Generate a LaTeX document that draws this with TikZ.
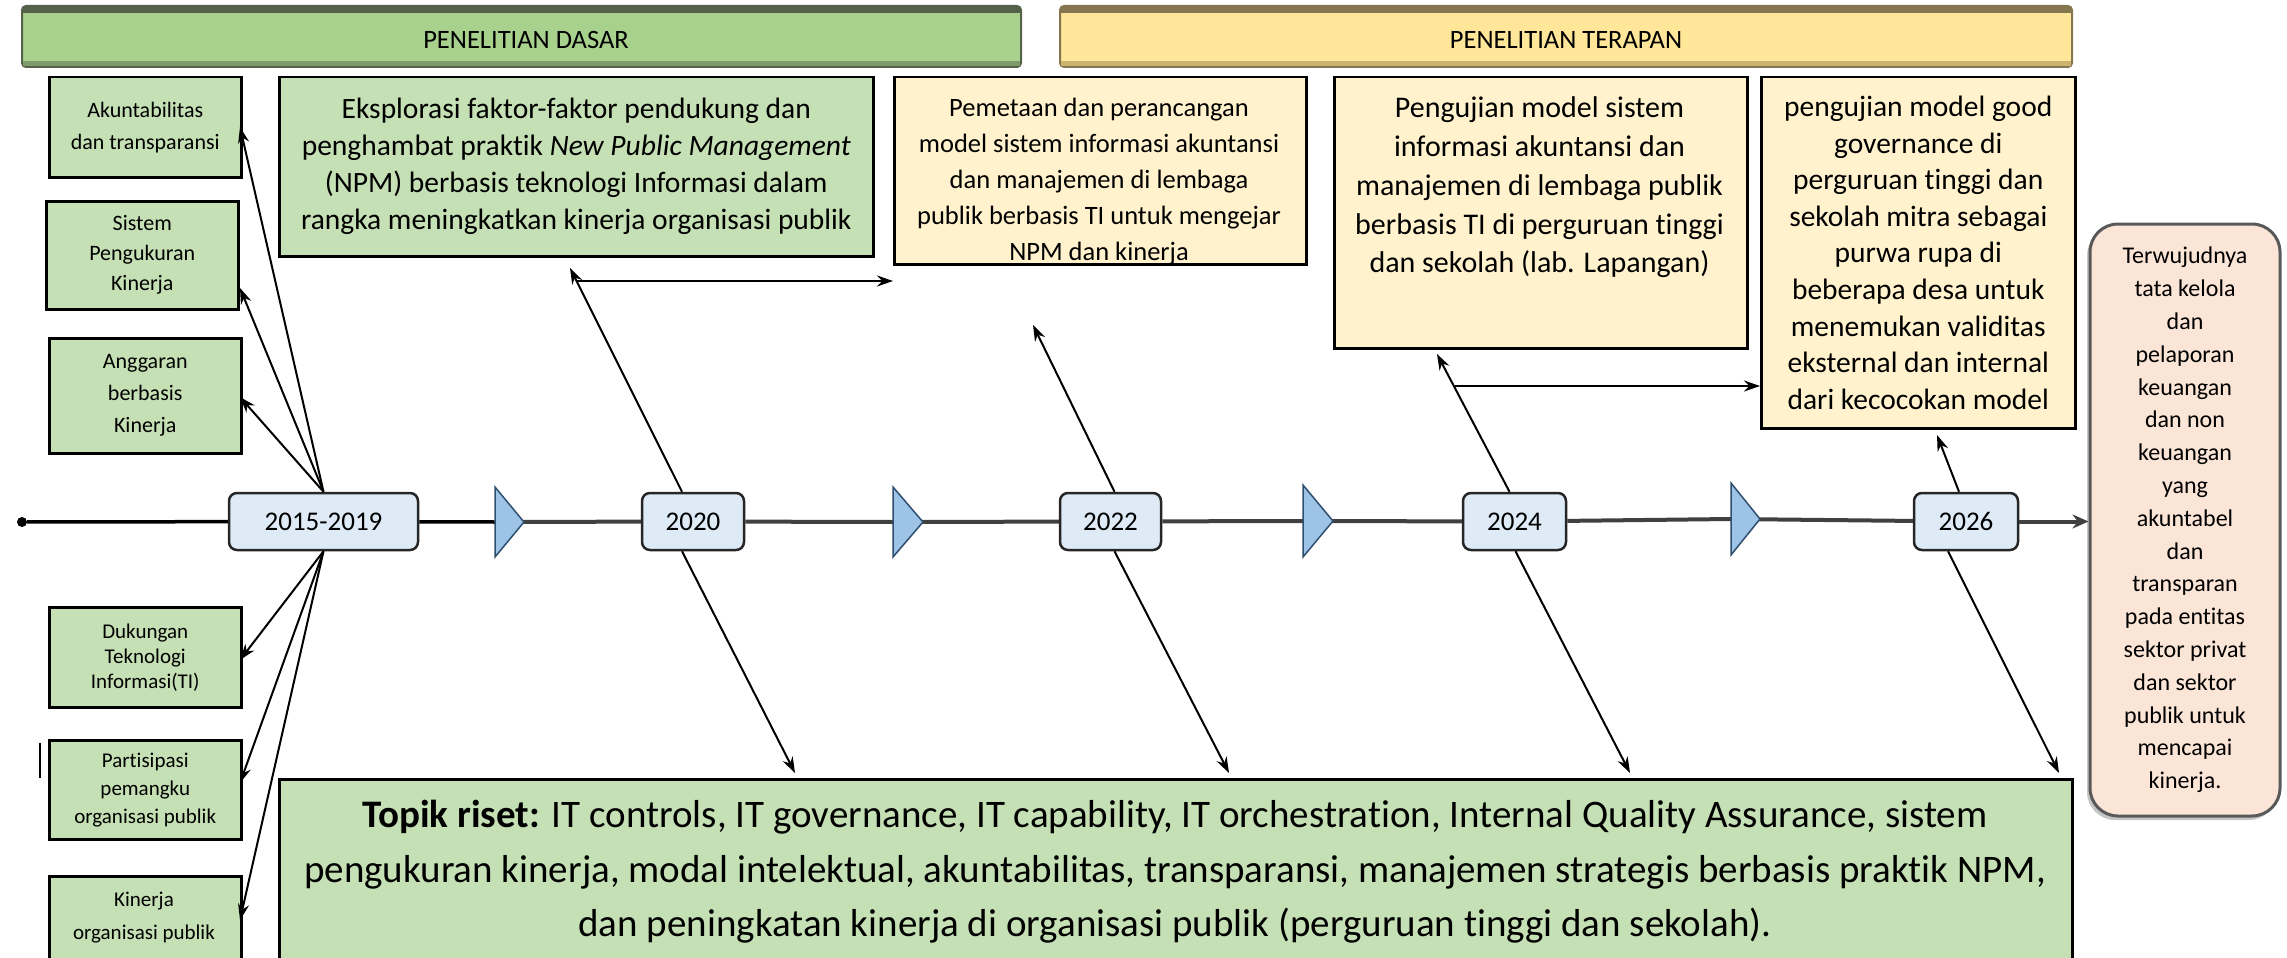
\documentclass[tikz,border=0pt]{standalone}
\usepackage{fontspec}
\setmainfont{Carlito}[Ligatures=CommonOff]
\usetikzlibrary{arrows.meta,calc,shadows}
\definecolor{bnG}{HTML}{A9D18E}
\definecolor{bnGd}{HTML}{55624A}
\definecolor{bnGl}{HTML}{7E9B69}
\definecolor{bnY}{HTML}{FFE699}
\definecolor{bnYd}{HTML}{857650}
\definecolor{bnYl}{HTML}{C9B36E}
\definecolor{bxG}{HTML}{C5E0B4}
\definecolor{bxY}{HTML}{FFF2CC}
\definecolor{bxP}{HTML}{FBE5D6}
\definecolor{yrB}{HTML}{DEEBF7}
\definecolor{triB}{HTML}{9DC3E6}
\definecolor{triD}{HTML}{2F4F6F}
\begin{document}
\begin{tikzpicture}[x=1pt,y=-1pt,
  banner/.style={rounded corners=4pt,line width=2pt,inner sep=0pt,font=\fontsize{26.5}{30}\selectfont},
  box/.style={draw=black,line width=2.5pt,inner sep=0pt,align=center,anchor=north west},
  smallbox/.style={box,fill=bxG,minimum width=192},
  yearbox/.style={draw=black!85,line width=2.5pt,fill=yrB,rounded corners=8pt,minimum height=57,inner sep=0pt,font=\fontsize{27}{30}\selectfont},
  arr/.style={draw=black,line width=2pt,-{Stealth[length=16pt,width=11pt]}},
  tl/.style={draw=black!75,line width=4pt},
  tri/.style={fill=triB,draw=triD,line width=1.5pt,line join=miter}
]
\useasboundingbox (0,0) rectangle (2287,958);
\clip (0,0) rectangle (2287,958);

% banners
\node[banner,fill=bnG,draw=bnGd,minimum width=999,minimum height=61] (dasar) at (521.5,36.5) {};
\fill[bnGd] (23,7) rectangle (1020,13);
\fill[bnGl] (23,61) rectangle (1020,66);
\node[font=\fontsize{26.5}{30}\selectfont] (dasarT) at (526,40) {PENELITIAN DASAR};
\node[banner,fill=bnY,draw=bnYd,minimum width=1012,minimum height=61] (terapan) at (1566,36.5) {};
\fill[bnYd] (1061,7) rectangle (2071,13);
\fill[bnYl] (1061,61) rectangle (2071,66);
\node[font=\fontsize{26.5}{30}\selectfont] (terapanT) at (1566,40) {PENELITIAN TERAPAN};

% left small boxes
\node[smallbox,minimum height=100,font=\fontsize{22}{32}\selectfont] (b1) at (48,76) {Akuntabilitas\\dan transparansi};
\node[smallbox,minimum height=108,font=\fontsize{22}{30}\selectfont] (b2) at (45,200) {Sistem\\Pengukuran\\Kinerja};
\node[smallbox,minimum height=115,font=\fontsize{22}{32}\selectfont] (b3) at (48,337) {Anggaran\\berbasis\\Kinerja};
\node[smallbox,minimum height=100,font=\fontsize{21}{25}\selectfont] (b4) at (48,606) {Dukungan\\Teknologi\\Informasi(TI)};
\node[smallbox,minimum height=99,font=\fontsize{21}{28}\selectfont] (b5) at (48,739) {Partisipasi\\pemangku\\organisasi publik};
\node[smallbox,minimum height=130] (b6) at (48,875) {};
\node[align=center,font=\fontsize{21}{33}\selectfont] (b6t) at (144,918) {Kinerja\\organisasi publik};
\draw[line width=2pt] (40,743) -- (40,778);

% top boxes
\node[box,fill=bxG,minimum width=594,minimum height=179,font=\fontsize{29.5}{37}\selectfont] (A) at (278,76)
  {Eksplorasi faktor-faktor pendukung dan\\penghambat praktik \textit{New Public Management}\\(NPM) berbasis teknologi Informasi dalam\\rangka meningkatkan kinerja organisasi publik};
\node[box,fill=bxY,minimum width=412,minimum height=187] (B) at (893,76) {};
\node[align=center,font=\fontsize{26.5}{36}\selectfont] (Bt) at (1099,181.5)
  {Pemetaan dan perancangan\\model sistem informasi akuntansi\\dan manajemen di lembaga\\publik berbasis TI untuk mengejar\\NPM dan kinerja};
\node[box,fill=bxY,minimum width=413,minimum height=271] (C) at (1333,76) {};
\node[align=center,font=\fontsize{30}{38.7}\selectfont] (Ct) at (1539.5,187.5)
  {Pengujian model sistem\\informasi akuntansi dan\\manajemen di lembaga publik\\berbasis TI di perguruan tinggi\\dan sekolah (lab. Lapangan)};
\node[box,fill=bxY,minimum width=314,minimum height=351,font=\fontsize{29.5}{36.6}\selectfont] (D) at (1760,76)
  {pengujian model good\\governance di\\perguruan tinggi dan\\sekolah mitra sebagai\\purwa rupa di\\beberapa desa untuk\\menemukan validitas\\eksternal dan internal\\dari kecocokan model};

% outcome box
\node[draw=black!65,line width=3pt,fill=bxP,rounded corners=28pt,minimum width=190,minimum height=592,inner sep=0pt,align=center,
  font=\fontsize{24}{32.8}\selectfont,drop shadow={shadow xshift=-3pt,shadow yshift=-4pt,fill=black!45}] (E) at (2185,520)
  {Terwujudnya\\tata kelola\\dan\\pelaporan\\keuangan\\dan non\\keuangan\\yang\\akuntabel\\dan\\transparan\\pada entitas\\sektor privat\\dan sektor\\publik untuk\\mencapai\\kinerja.};

% research topics box
\node[box,fill=bxG,minimum width=1793,minimum height=240] (T) at (278,778) {};
\node[align=center,font=\fontsize{39}{54.5}\selectfont] (Tt) at (1175,872)
  {\textbf{Topik riset:} IT controls, IT governance, IT capability, IT orchestration, Internal Quality Assurance, sistem\\pengukuran kinerja, modal intelektual, akuntabilitas, transparansi, manajemen strategis berbasis praktik NPM,\\dan peningkatan kinerja di organisasi publik (perguruan tinggi dan sekolah).};

% timeline nodes
\node[circle,fill=black,inner sep=0pt,minimum size=10] (dot) at (22,522) {};
\node[yearbox,minimum width=189] (y1519) at (323.5,521.5) {2015-2019};
\node[yearbox,minimum width=102] (y2020) at (693,521.5) {2020};
\node[yearbox,minimum width=101] (y2022) at (1110.5,521.5) {2022};
\node[yearbox,minimum width=103] (y2024) at (1514.5,521.5) {2024};
\node[yearbox,minimum width=104] (y2026) at (1966,521.5) {2026};
\coordinate (t1) at (495,522);
\coordinate (t2) at (893,522);
\coordinate (t3) at (1303,521);
\coordinate (t4) at (1731,519);

\draw[draw=black,line width=3.5pt] (dot) -- (y1519);
\draw[draw=black,line width=3.5pt] (y1519) -- (t1);
\draw[tl] (t1) -- (y2020);
\draw[tl] (y2020) -- (t2);
\draw[tl] (t2) -- (y2022);
\draw[tl] (y2022) -- (t3);
\draw[tl] (t3) -- (y2024);
\draw[tl] (y2024) -- (t4);
\draw[tl] (t4) -- (y2026);
\draw[tl,-{Stealth[length=16pt,width=14pt]}] (y2026) -- (y2026 -| E.west);

\draw[tri] (t1) ++(0,-35) -- ++(29,35) -- ++(-29,35) -- cycle;
\draw[tri] (t2) ++(0,-35) -- ++(30,35) -- ++(-30,35) -- cycle;
\draw[tri] (t3) ++(0,-36) -- ++(30,36) -- ++(-30,36) -- cycle;
\draw[tri] (t4) ++(0,-36) -- ++(29,36) -- ++(-29,36) -- cycle;

% fan from 2015-2019
\coordinate (e1) at (240,127);
\coordinate (e2) at (240,288);
\coordinate (e3) at (240,397);
\coordinate (e4) at (240,660);
\coordinate (e5) at (240,783);
\coordinate (e6) at (240,920);
\draw[arr] (y1519.north) -- (e1);
\draw[arr] (y1519.north) -- (e2);
\draw[arr] (y1519.north) -- (e3);
\draw[arr] (y1519.south) -- (e4);
\draw[arr] (y1519.south) -- (e5);
\draw[arr] (y1519.south) -- (e6);

% upward arrows
\coordinate (aA) at (570,268);
\coordinate (aB) at (1033,325);
\coordinate (aC) at (1437,354);
\coordinate (aD) at (1937,435);
\draw[arr] ([xshift=-11pt]y2020.north) -- (aA);
\draw[arr] ([xshift=4pt]y2022.north) -- (aB);
\draw[arr] ([xshift=-5pt]y2024.north) -- (aC);
\draw[arr] ([xshift=-7pt]y2026.north) -- (aD);
\coordinate (hB) at (576,281);
\coordinate (hD) at (1455,386);
\draw[arr] (hB) -- (hB -| B.west);
\draw[arr] (hD) -- (hD -| D.west);

% downward arrows
\coordinate (d1) at (795,773);
\coordinate (d2) at (1229,773);
\coordinate (d3) at (1630,773);
\coordinate (d4) at (2059,773);
\draw[arr] ([xshift=-11pt]y2020.south) -- (d1);
\draw[arr] ([xshift=4pt]y2022.south) -- (d2);
\draw[arr] ([xshift=1pt]y2024.south) -- (d3);
\draw[arr] ([xshift=-18pt]y2026.south) -- (d4);
\end{tikzpicture}
\end{document}
